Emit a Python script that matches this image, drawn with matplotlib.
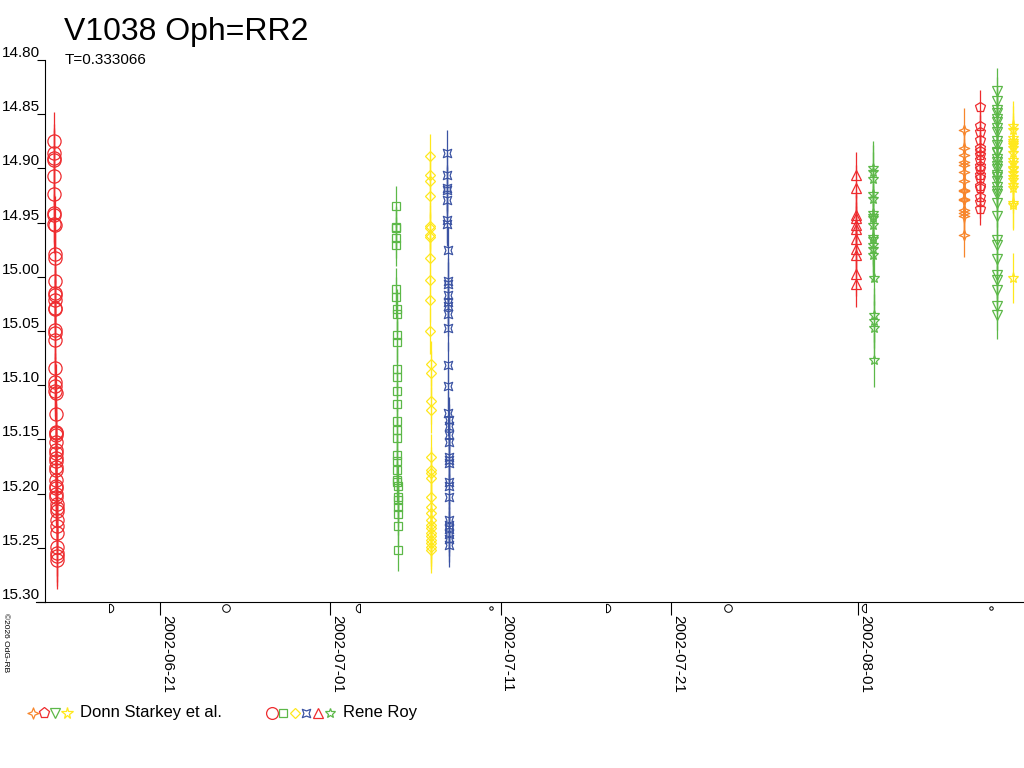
import matplotlib
matplotlib.use('Agg')
import matplotlib.pyplot as plt
import matplotlib.dates as mdates
from matplotlib.path import Path
from matplotlib.lines import Line2D
from datetime import datetime

plt.rcParams['font.family'] = ['Liberation Sans', 'DejaVu Sans']

title = "V1038 Oph=RR2"
subtitle = "T=0.333066"
copyright_txt = "\u00a92026 OdG-RB"
JD0 = 2452400.0  # times below are JD - 2452400

# ---------------- Rene Roy ----------------
t_rr_circ = [40.280, 40.284, 40.286, 40.288, 40.292, 40.296, 40.300, 40.302, 40.305, 40.307,
             40.312, 40.315, 40.320, 40.324, 40.326, 40.329, 40.333, 40.335, 40.340, 40.343,
             40.346, 40.352, 40.357, 40.360, 40.362, 40.364, 40.370, 40.376, 40.378, 40.380,
             40.384, 40.388, 40.391, 40.394, 40.397, 40.400, 40.403, 40.408, 40.412, 40.415,
             40.419, 40.422, 40.427, 40.430, 40.433, 40.438, 40.443, 40.448, 40.456, 40.461,
             40.464, 40.468]
m_rr_circ = [14.875, 14.886, 14.890, 14.892, 14.907, 14.924, 14.941, 14.943, 14.951, 14.952,
             14.979, 14.983, 15.004, 15.015, 15.017, 15.021, 15.029, 15.030, 15.049, 15.052,
             15.058, 15.084, 15.097, 15.101, 15.105, 15.107, 15.127, 15.143, 15.144, 15.146,
             15.152, 15.160, 15.163, 15.167, 15.170, 15.175, 15.178, 15.187, 15.193, 15.195,
             15.200, 15.203, 15.210, 15.213, 15.216, 15.224, 15.230, 15.236, 15.249, 15.255,
             15.258, 15.261]

t_rr_sq = [60.360, 60.366, 60.368, 60.371, 60.374, 60.384, 60.387, 60.390, 60.392, 60.398,
           60.400, 60.407, 60.410, 60.414, 60.418, 60.423, 60.426, 60.429, 60.434, 60.437,
           60.440, 60.444, 60.445, 60.447, 60.451, 60.453, 60.456, 60.459, 60.464, 60.472]
m_rr_sq = [14.935, 14.954, 14.955, 14.964, 14.971, 15.011, 15.019, 15.030, 15.034, 15.054,
           15.060, 15.085, 15.092, 15.105, 15.117, 15.133, 15.141, 15.149, 15.164, 15.170,
           15.178, 15.187, 15.189, 15.193, 15.203, 15.206, 15.212, 15.219, 15.230, 15.252]

t_rr_dia = [62.350, 62.353, 62.355, 62.358, 62.363, 62.364, 62.366, 62.367, 62.370, 62.374,
            62.377, 62.382, 62.387, 62.389, 62.394, 62.396, 62.404, 62.407, 62.408, 62.409,
            62.413, 62.415, 62.417, 62.419, 62.420, 62.421, 62.423, 62.424, 62.426, 62.427,
            62.428, 62.430]
m_rr_dia = [14.889, 14.906, 14.912, 14.925, 14.953, 14.955, 14.961, 14.963, 14.983, 15.003,
            15.021, 15.050, 15.080, 15.089, 15.115, 15.123, 15.166, 15.178, 15.181, 15.186,
            15.203, 15.212, 15.218, 15.224, 15.229, 15.232, 15.236, 15.239, 15.243, 15.246,
            15.249, 15.252]

t_rr_blue = [63.350, 63.356, 63.361, 63.362, 63.365, 63.372, 63.373, 63.382, 63.392, 63.393,
             63.397, 63.400, 63.402, 63.405, 63.410, 63.422, 63.429, 63.438, 63.441, 63.443,
             63.446, 63.448, 63.453, 63.455, 63.456, 63.462, 63.464, 63.468, 63.476, 63.478,
             63.480, 63.482, 63.484, 63.486]
m_rr_blue = [14.886, 14.906, 14.918, 14.920, 14.929, 14.948, 14.951, 14.975, 15.004, 15.007,
             15.017, 15.023, 15.027, 15.034, 15.047, 15.081, 15.101, 15.126, 15.132, 15.138,
             15.146, 15.152, 15.166, 15.169, 15.172, 15.189, 15.193, 15.203, 15.224, 15.229,
             15.233, 15.237, 15.242, 15.247]

t_rr_tri = [87.370, 87.372, 87.375, 87.376, 87.377, 87.378, 87.380, 87.382, 87.383, 87.386, 87.388]
m_rr_tri = [14.906, 14.918, 14.943, 14.946, 14.952, 14.956, 14.965, 14.974, 14.980, 14.997, 15.007]

t_rr_star = [88.370, 88.372, 88.374, 88.378, 88.379, 88.383, 88.384, 88.385, 88.387, 88.390,
             88.391, 88.393, 88.394, 88.396, 88.402, 88.412, 88.414, 88.416, 88.425]
m_rr_star = [14.900, 14.903, 14.910, 14.924, 14.928, 14.941, 14.944, 14.946, 14.952, 14.963,
             14.965, 14.971, 14.974, 14.980, 15.001, 15.035, 15.041, 15.047, 15.077]

# ---------------- Donn Starkey et al. ----------------
t_ds_or = [93.705, 93.708, 93.706, 93.710, 93.709, 93.707, 93.711, 93.712, 93.710, 93.708,
           93.713, 93.711, 93.709, 93.712, 93.710]
m_ds_or = [14.865, 14.881, 14.888, 14.894, 14.897, 14.903, 14.912, 14.920, 14.921, 14.928,
           14.929, 14.938, 14.941, 14.944, 14.961]

t_ds_pent = [94.660, 94.650, 94.652, 94.651, 94.653, 94.650, 94.652, 94.651, 94.653, 94.650,
             94.652, 94.651, 94.653, 94.652, 94.650, 94.651, 94.652]
m_ds_pent = [14.843, 14.861, 14.866, 14.874, 14.881, 14.884, 14.888, 14.892, 14.898, 14.901,
             14.906, 14.909, 14.916, 14.918, 14.926, 14.931, 14.937]

t_ds_tri = [95.650, 95.651, 95.652, 95.650, 95.651, 95.653, 95.652, 95.650, 95.651, 95.652,
            95.650, 95.651, 95.653, 95.652, 95.650, 95.651, 95.652, 95.650, 95.651, 95.653,
            95.652, 95.650, 95.651, 95.650, 95.648, 95.649, 95.648, 95.647, 95.649, 95.648,
            95.647, 95.648]
m_ds_tri = [14.829, 14.838, 14.846, 14.849, 14.854, 14.857, 14.863, 14.866, 14.875, 14.878,
            14.885, 14.886, 14.891, 14.894, 14.898, 14.901, 14.906, 14.908, 14.912, 14.917,
            14.921, 14.924, 14.932, 14.944, 14.966, 14.971, 14.984, 14.998, 15.003, 15.012,
            15.027, 15.035]

t_ds_star = [96.610, 96.612, 96.609, 96.613, 96.611, 96.614, 96.610, 96.612, 96.615, 96.611,
             96.613, 96.610, 96.612, 96.614, 96.611, 96.613, 96.612, 96.610, 96.611, 96.600]
m_ds_star = [14.861, 14.865, 14.872, 14.875, 14.877, 14.878, 14.881, 14.886, 14.892, 14.895,
             14.900, 14.901, 14.904, 14.908, 14.911, 14.915, 14.918, 14.932, 14.934, 15.001]

# uncertainties (mag)
err_rr_circ, err_rr_sq, err_rr_dia, err_rr_blue, err_rr_tri, err_rr_star = 0.027, 0.019, 0.021, 0.021, 0.021, 0.025
err_ds_or, err_ds_pent, err_ds_tri, err_ds_star = 0.021, 0.015, 0.022, 0.023

# axis ticks
y_ticks = [14.80, 14.85, 14.90, 14.95, 15.00, 15.05, 15.10, 15.15, 15.20, 15.25, 15.30]
x_tick_dates = ["2002-06-21", "2002-07-01", "2002-07-11", "2002-07-21", "2002-08-01"]

# moon phases (date, kind)
moon_dates = ["2002-06-18 00:29", "2002-06-24 21:42", "2002-07-02 17:19", "2002-07-10 10:26",
              "2002-07-17 04:47", "2002-07-24 09:07", "2002-08-01 10:22", "2002-08-08 19:15"]
moon_kind = ["fq", "full", "lq", "new", "fq", "full", "lq", "new"]

# ---------------- colours & markers ----------------
RED = '#ee2b2e'
GREEN = '#5cb848'
YELLOW = '#ffe81c'
BLUE = '#3b53a3'
ORANGE = '#f7862c'

def closed(verts):
    return Path(verts + [verts[0]], closed=True)

star4 = closed([(0, 1), (0.28, 0.28), (1, 0), (0.28, -0.28), (0, -1), (-0.28, -0.28), (-1, 0), (-0.28, 0.28)])
concave_sq = closed([(1, 1), (0, 0.62), (-1, 1), (-0.62, 0), (-1, -1), (0, -0.62), (1, -1), (0.62, 0)])
half_right = Path.arc(-90, 90)
half_right = Path(list(half_right.vertices) + [half_right.vertices[0]], closed=True)
half_left = Path.arc(90, 270)
half_left = Path(list(half_left.vertices) + [half_left.vertices[0]], closed=True)

series = [
    (t_rr_circ, m_rr_circ, err_rr_circ, 'o', 9.5, RED),
    (t_rr_sq, m_rr_sq, err_rr_sq, 's', 5.2, GREEN),
    (t_rr_dia, m_rr_dia, err_rr_dia, 'D', 5.0, YELLOW),
    (t_rr_blue, m_rr_blue, err_rr_blue, concave_sq, 6.0, BLUE),
    (t_rr_tri, m_rr_tri, err_rr_tri, '^', 7.5, RED),
    (t_rr_star, m_rr_star, err_rr_star, '*', 7.5, GREEN),
    (t_ds_or, m_ds_or, err_ds_or, star4, 7.5, ORANGE),
    (t_ds_pent, m_ds_pent, err_ds_pent, 'p', 7.5, RED),
    (t_ds_tri, m_ds_tri, err_ds_tri, 'v', 7.0, GREEN),
    (t_ds_star, m_ds_star, err_ds_star, '*', 8.0, YELLOW),
]

W, H = 1024, 768
fig = plt.figure(figsize=(W / 100, H / 100), dpi=100)
ax = fig.add_axes([45 / W, 1 - 602 / H, (W - 45) / W, (602 - 60) / H])

def to_num(t):
    return [v + JD0 - 2440587.5 for v in t]

for t, m, e, mk, ms, col in series:
    x = to_num(t)
    ax.errorbar(x, m, yerr=e, fmt='none', ecolor=col, elinewidth=0.9, capsize=0, zorder=2)
    ax.plot(x, m, ls='none', marker=mk, ms=ms, mfc='none', mec=col, mew=0.9, zorder=3)

d0 = mdates.date2num(datetime(2002, 6, 21))
ppd = 17.03
ax.set_xlim(d0 + (45 - 160) / ppd, d0 + (1024 - 160) / ppd)
ax.set_ylim(15.30, 14.80)

ax.set_yticks(y_ticks)
ax.set_yticklabels([f"{v:.2f}" for v in y_ticks], fontsize=11)
for lab in ax.get_yticklabels():
    lab.set_va('bottom')
ax.tick_params(axis='y', direction='out', length=5.8, width=0.8, pad=-2.0)

xt = [mdates.date2num(datetime.strptime(s, "%Y-%m-%d")) for s in x_tick_dates]
ax.set_xticks(xt)
ax.set_xticklabels(x_tick_dates, fontsize=11, rotation=-90, ha='left', va='top')
ax.tick_params(axis='x', direction='out', length=9, width=0.8, pad=0.5)

for s in ['top', 'right']:
    ax.spines[s].set_visible(False)
for s in ['left', 'bottom']:
    ax.spines[s].set_linewidth(0.8)

# moon phase symbols just below axis
mtr = ax.get_xaxis_transform()
for ds, kind in zip(moon_dates, moon_kind):
    xd = mdates.date2num(datetime.strptime(ds, "%Y-%m-%d %H:%M"))
    if kind == 'fq':
        mk, ms = half_right, 6
    elif kind == 'lq':
        mk, ms = half_left, 6
    elif kind == 'full':
        mk, ms = 'o', 5.5
    else:
        mk, ms = 'o', 2.5
    ax.plot([xd], [-0.011], marker=mk, ms=ms, mfc='none', mec='black', mew=0.7,
            transform=mtr, clip_on=False)

# small extension of x axis line to the left of y axis
fig.add_artist(Line2D([36 / W, 45 / W], [1 - 602 / H, 1 - 602 / H], color='black', lw=0.8))

def fx(px):
    return px / W

def fy(py):
    return 1 - py / H

fig.text(fx(64), fy(40), title, fontsize=23, ha='left', va='baseline')
fig.text(fx(65), fy(64), subtitle, fontsize=11, ha='left', va='baseline')
fig.text(fx(2), fy(613), copyright_txt, fontsize=6, rotation=-90, ha='left', va='top')

# legend
leg1 = [(33, star4, 8.0, ORANGE), (44, 'p', 8.0, RED), (55, 'v', 7.5, GREEN), (67, '*', 8.5, YELLOW)]
leg2 = [(272, 'o', 8.5, RED), (283, 's', 5.5, GREEN), (295, 'D', 5.0, YELLOW), (306, concave_sq, 6.0, BLUE),
        (318, '^', 7.5, RED), (330, '*', 7.5, GREEN)]
for xp, mk, ms, col in leg1 + leg2:
    fig.add_artist(Line2D([fx(xp)], [fy(713)], ls='none', marker=mk, ms=ms, mfc='none', mec=col, mew=0.9))
fig.text(fx(80), fy(713), "Donn Starkey et al.", fontsize=12, ha='left', va='center')
fig.text(fx(343), fy(713), "Rene Roy", fontsize=12, ha='left', va='center')

fig.savefig('out.png', dpi=100)
